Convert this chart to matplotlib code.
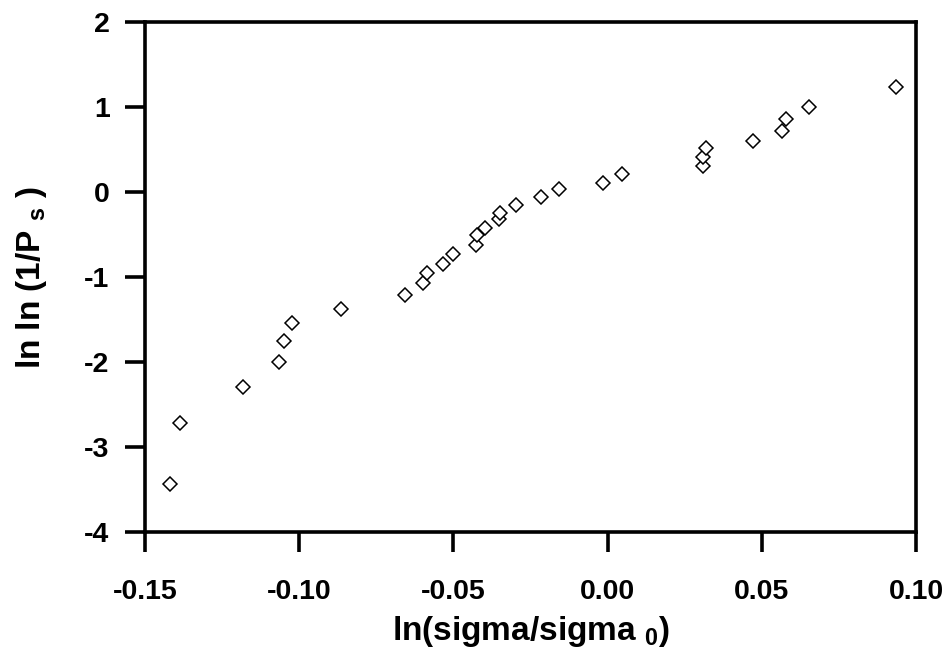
import matplotlib
matplotlib.use("Agg")
import matplotlib.pyplot as plt
from matplotlib import font_manager

x_vals = [-0.1418, -0.1388, -0.1182, -0.1064, -0.1048, -0.1024, -0.0865, -0.0656,
          -0.0598, -0.0585, -0.0534, -0.0501, -0.0427, -0.0422, -0.0397, -0.0351,
          -0.0348, -0.0298, -0.0217, -0.0159, -0.0014, 0.0047, 0.0309, 0.0309,
          0.0320, 0.0473, 0.0564, 0.0578, 0.0652, 0.0934]
y_vals = [-3.43, -2.72, -2.29, -2.00, -1.75, -1.54, -1.375, -1.21,
          -1.065, -0.95, -0.843, -0.725, -0.625, -0.507, -0.42, -0.32,
          -0.25, -0.155, -0.06, 0.04, 0.11, 0.21, 0.31, 0.415,
          0.52, 0.60, 0.72, 0.86, 1.00, 1.24]
x_ticks = [-0.15, -0.10, -0.05, 0.00, 0.05, 0.10]
x_tick_labels = ["-0.15", "-0.10", "-0.05", "0.00", "0.05", "0.10"]
y_ticks = [-4, -3, -2, -1, 0, 1, 2]
y_tick_labels = ["-4", "-3", "-2", "-1", "0", "1", "2"]

names = {f.name for f in font_manager.fontManager.ttflist}
if 'Liberation Sans Narrow' in names:
    fam = 'Liberation Sans Narrow'
    fs = 23
    fl = 26
else:
    fam = 'Liberation Sans'
    fs = 20.5
    fl = 24

plt.rcParams['font.family'] = [fam, 'DejaVu Sans']
plt.rcParams['mathtext.fontset'] = 'custom'
plt.rcParams['mathtext.rm'] = fam + ':bold'
plt.rcParams['mathtext.bf'] = fam + ':bold'

fig = plt.figure(figsize=(9.5, 6.64), dpi=100)
ax = fig.add_axes([145/950, 1 - 532/664, (916 - 145)/950, (532 - 22)/664])

ax.plot(x_vals, y_vals, linestyle='none', marker='D', markersize=7.5,
        markerfacecolor='white', markeredgecolor='black', markeredgewidth=1.1)

ax.set_xlim(-0.15, 0.10)
ax.set_ylim(-4, 2)
ax.set_xticks(x_ticks)
ax.set_xticklabels(x_tick_labels)
ax.set_yticks(y_ticks)
ax.set_yticklabels(y_tick_labels)

for s in ax.spines.values():
    s.set_linewidth(2.6)
ax.tick_params(axis='both', direction='out', length=14.5, width=2.6,
               labelsize=fs)
ax.tick_params(axis='x', pad=19)
ax.tick_params(axis='y', pad=11)
for lab in ax.get_xticklabels() + ax.get_yticklabels():
    lab.set_fontweight('bold')

ax.set_xlabel(r'ln(sigma/sigma $_{\mathbf{0}}$)', fontsize=fl, fontweight='bold', labelpad=7)
ax.set_ylabel(r'ln ln (1/P $_{\mathbf{s}}$ )', fontsize=fl, fontweight='bold', labelpad=25)

fig.savefig('out.png', dpi=100)
